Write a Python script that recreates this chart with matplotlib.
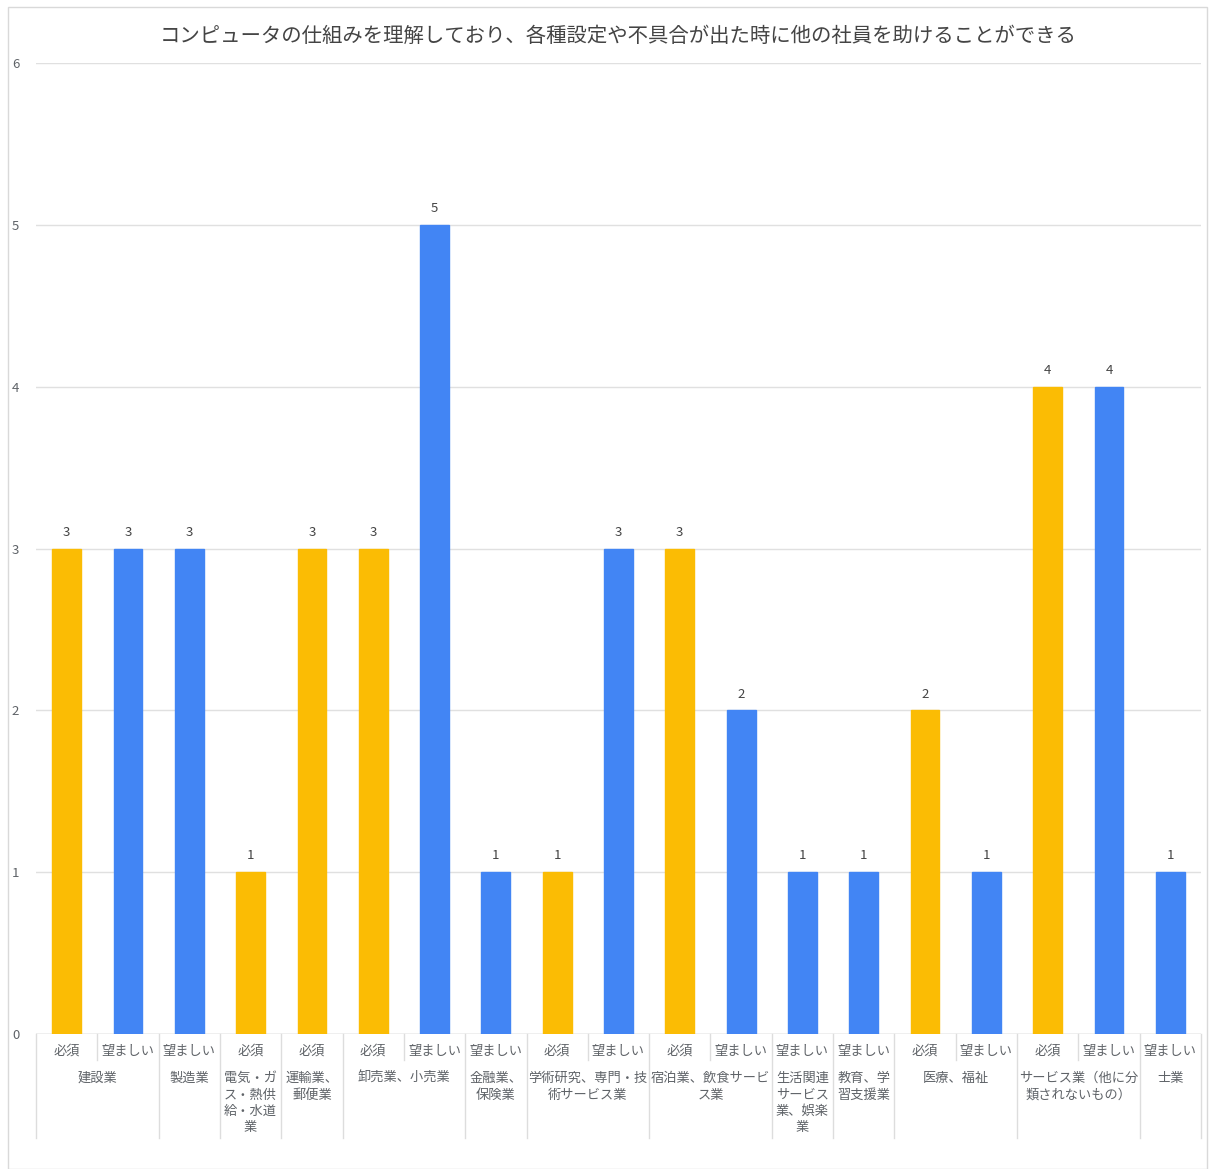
import matplotlib
matplotlib.use('Agg')
import matplotlib.pyplot as plt
from matplotlib.patches import Rectangle

plt.rcParams['font.family'] = ['Noto Sans CJK JP', 'DejaVu Sans']

title = 'コンピュータの仕組みを理解しており、各種設定や不具合が出た時に他の社員を助けることができる'

# one entry per bar
levels = ['必須', '望ましい', '望ましい', '必須', '必須', '必須', '望ましい', '望ましい', '必須', '望ましい',
          '必須', '望ましい', '望ましい', '望ましい', '必須', '望ましい', '必須', '望ましい', '望ましい']
values = [3, 3, 3, 1, 3, 3, 5, 1, 1, 3, 3, 2, 1, 1, 2, 1, 4, 4, 1]

# industry groups and how many bars each one spans
industries = ['建設業', '製造業', '電気・ガ\nス・熱供\n給・水道\n業', '運輸業、\n郵便業', '卸売業、小売業',
              '金融業、\n保険業', '学術研究、専門・技\n術サービス業', '宿泊業、飲食サービ\nス業',
              '生活関連\nサービス\n業、娯楽\n業', '教育、学\n習支援業', '医療、福祉',
              'サービス業（他に分\n類されないもの）', '士業']
spans = [2, 1, 1, 1, 2, 1, 2, 2, 1, 1, 2, 2, 1]

colors = {'必須': '#FBBC04', '望ましい': '#4285F4'}
grey = '#5f6368'

W, H = 1215, 1169
fig = plt.figure(figsize=(W / 100, H / 100), dpi=100)
fig.patches.append(Rectangle((8 / W, 0), 1 - 16 / W, 1 - 7 / H, transform=fig.transFigure,
                             fill=False, edgecolor='#d9d9d9', linewidth=1))

ax = fig.add_axes([36 / W, 135 / H, (1201 - 36) / W, (1034 - 63) / H])
x = list(range(len(values)))
bar_colors = [colors[l] for l in levels]
ax.bar(x, values, width=0.47, color=bar_colors, edgecolor=bar_colors, linewidth=1, zorder=3)
for xi, v in zip(x, values):
    ax.text(xi, v + 0.06, str(v), ha='center', va='bottom', fontsize=9.5, color='#444444')

ax.set_xlim(-0.5, len(values) - 0.5)
ax.set_ylim(0, 6)
ax.set_yticks(range(7))
ax.tick_params(axis='y', length=0, labelsize=9.5, labelcolor=grey, pad=12)
ax.set_xticks([])
ax.grid(axis='y', color='#e0e0e0', linewidth=1)
ax.set_axisbelow(True)
for s in ax.spines.values():
    s.set_visible(False)
ax.axhline(0, color='#cccccc', linewidth=1, zorder=2)

ax.set_title(title, fontsize=14.7, color='#444444', pad=15)

trans = ax.get_xaxis_transform()
ah = 1034 - 63
sub_y = -17 / ah
grp_y = -38 / ah
short_y = -26 / ah
long_y = -104 / ah

for xi, l in zip(x, levels):
    ax.text(xi, sub_y, l, transform=trans, ha='center', va='center', fontsize=9.5, color=grey)

start = 0
ax.plot([-0.5, -0.5], [0, long_y], transform=trans, color='#dddddd', lw=1, clip_on=False)
for name, n in zip(industries, spans):
    center = start + (n - 1) / 2
    ax.text(center, grp_y, name, transform=trans, ha='center', va='top', fontsize=9.5,
            color=grey, linespacing=1.35)
    for k in range(1, n):
        ax.plot([start + k - 0.5] * 2, [0, short_y], transform=trans, color='#dddddd', lw=1, clip_on=False)
    start += n
    ax.plot([start - 0.5] * 2, [0, long_y], transform=trans, color='#dddddd', lw=1, clip_on=False)

fig.savefig('out.png', dpi=100)
